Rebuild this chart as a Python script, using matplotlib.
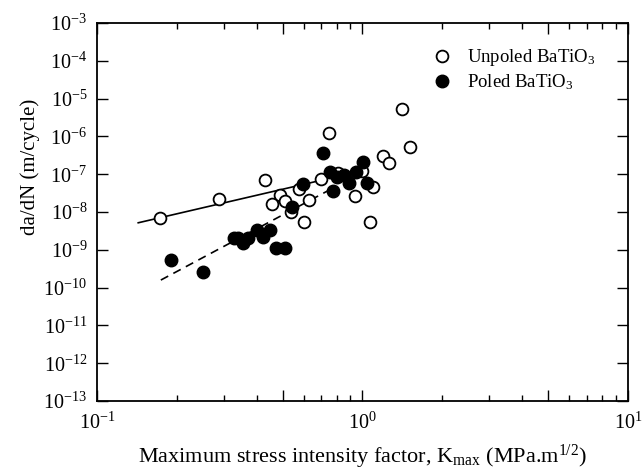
import matplotlib
matplotlib.use("Agg")
import matplotlib.pyplot as plt
import matplotlib.ticker as mticker
import numpy as np

plt.rcParams['font.family'] = ['Liberation Serif', 'DejaVu Serif']
plt.rcParams['mathtext.fontset'] = 'custom'
plt.rcParams['mathtext.rm'] = 'Liberation Serif'
plt.rcParams['mathtext.it'] = 'Liberation Serif:italic'

# Unpoled BaTiO3 (open circles)
unpoled_k = [0.172, 0.287, 0.431, 0.489, 0.455, 0.513, 0.539, 0.578, 0.600, 0.630,
             0.701, 0.748, 0.811, 0.941, 1.00, 1.10, 1.067, 1.195, 1.258, 1.413, 1.517]
unpoled_dadn = [6.8e-9, 2.17e-8, 6.9e-8, 2.9e-8, 1.63e-8, 1.95e-8, 1.02e-8, 4.06e-8, 5.4e-9, 2.14e-8,
                7.6e-8, 1.25e-6, 1.11e-7, 2.68e-8, 1.19e-7, 4.7e-8, 5.4e-9, 2.98e-7, 1.98e-7, 5.2e-6, 5.15e-7]

# Poled BaTiO3 (filled circles)
poled_k = [0.190, 0.250, 0.328, 0.341, 0.354, 0.372, 0.402, 0.421, 0.448, 0.472, 0.513,
           0.541, 0.596, 0.712, 0.756, 0.776, 0.805, 0.852, 0.892, 0.945, 1.004, 1.04]
poled_dadn = [5.3e-10, 2.64e-10, 2.1e-9, 2.1e-9, 1.49e-9, 2.1e-9, 3.3e-9, 2.2e-9, 3.3e-9, 1.1e-9, 1.1e-9,
              1.33e-8, 5.4e-8, 3.75e-7, 1.16e-7, 3.7e-8, 8.7e-8, 9.5e-8, 6.0e-8, 1.14e-7, 2.1e-7, 5.7e-8]

# fit lines (end points)
unpoled_fit_k = [0.143, 0.704]
unpoled_fit_dadn = [5.2e-9, 7.0e-8]
poled_fit_k = [0.174, 0.788]
poled_fit_dadn = [1.59e-10, 4.6e-8]

fig = plt.figure(figsize=(6.44, 4.73), dpi=100)
ax = fig.add_axes([0.1506, 0.152, 0.8244, 0.7994])

ax.plot(unpoled_fit_k, unpoled_fit_dadn, color="black", lw=1.2)
ax.plot(poled_fit_k, poled_fit_dadn, color="black", lw=1.2, dashes=(5, 3.5))

ax.plot(unpoled_k, unpoled_dadn, "o", mfc="white", mec="black", mew=1.3, ms=8.5,
        linestyle="none", label="Unpoled BaTiO$_3$")
ax.plot(poled_k, poled_dadn, "o", mfc="black", mec="black", ms=9,
        linestyle="none", label="Poled BaTiO$_3$")

ax.set_xscale("log")
ax.set_yscale("log")
ax.set_xlim(0.1, 10)
ax.set_ylim(1e-13, 1e-3)

# x ticks: long ticks at decades and at 5, short minor ticks otherwise
ax.xaxis.set_major_locator(mticker.FixedLocator([0.1, 0.5, 1, 5, 10]))
def xfmt(v, pos):
    e = int(round(np.log10(v)))
    if abs(np.log10(v) - e) > 1e-6:
        return ""
    return r"$\mathregular{10^{%d}}$" % e
ax.xaxis.set_major_formatter(mticker.FuncFormatter(xfmt))
ax.xaxis.set_minor_locator(mticker.FixedLocator([0.2, 0.3, 0.4, 0.6, 0.7, 0.8, 0.9,
                                                 2, 3, 4, 6, 7, 8, 9]))
ax.xaxis.set_minor_formatter(mticker.NullFormatter())

ax.yaxis.set_major_locator(mticker.FixedLocator([10.0**e for e in range(-13, -2)]))
ax.yaxis.set_major_formatter(mticker.FuncFormatter(
    lambda v, pos: r"$\mathregular{10^{%d}}$" % int(round(np.log10(v)))))
ax.yaxis.set_minor_locator(mticker.NullLocator())

ax.tick_params(which="both", direction="in", top=True, right=True, labelsize=14.5, width=1)
ax.tick_params(which="major", length=8)
ax.tick_params(which="minor", length=4.5)
ax.tick_params(axis="x", pad=8)
ax.tick_params(axis="y", pad=7)
for s in ax.spines.values():
    s.set_linewidth(1.3)

ax.set_xlabel("Maximum stress intensity factor, K$_{\\mathregular{max}}$ (MPa.m$^{1/2}$)",
              fontsize=16)
ax.xaxis.set_label_coords(0.5, -0.11)
ax.set_ylabel("da/dN (m/cycle)", fontsize=15)
ax.yaxis.set_label_coords(-0.108, 0.62)

ax.legend(loc="upper right", frameon=False, fontsize=13.5, handletextpad=0.35,
          borderaxespad=0.6, labelspacing=0.2, bbox_to_anchor=(0.975, 0.985))

fig.savefig("out.png", dpi=100)
